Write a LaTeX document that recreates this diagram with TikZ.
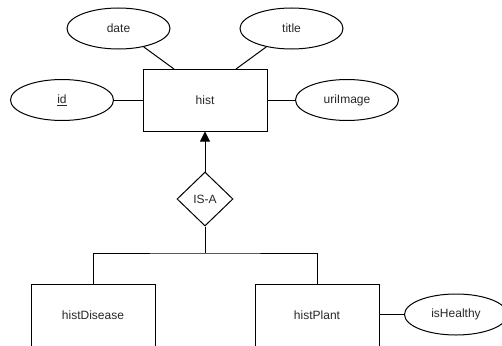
\documentclass[tikz,border=0pt]{standalone}
\usepackage{fontspec}
\setmainfont{Liberation Sans}
\usetikzlibrary{shapes.geometric,arrows.meta}

\tikzset{
    entity/.style = {draw, line width=1pt, minimum width=124pt, minimum height=62pt},
    attrib/.style = {ellipse, draw, line width=1pt, minimum width=103pt, minimum height=41pt, inner sep=0pt},
    isarel/.style = {diamond, draw, line width=1pt, minimum width=56pt, minimum height=54pt, inner sep=0pt},
    link/.style   = {line width=1pt}
}

\begin{document}
\begin{tikzpicture}[x=1pt, y=-1pt, font=\fontsize{12}{14}\selectfont, text=black!85]
    \useasboundingbox (0,0) rectangle (502,345);

    % supertype and its attributes
    \node[entity] (hist) at (205,100) {hist};
    \node[attrib] (date) at (118.5,28.5) {date};
    \node[attrib] (title) at (291.5,28.5) {title};
    \node[attrib] (id) at (62,100) {\underline{id}};
    \node[attrib] (uri) at (347,100) {uriImage};

    \draw[link] (date) -- (174,69);
    \draw[link] (title) -- (236,69);
    \draw[link] (id) -- (hist);
    \draw[link] (uri) -- (hist);

    % specialisation
    \node[isarel] (isa) at (205,199) {IS-A};
    \draw[link, -{Triangle[length=10pt, width=10pt]}] (isa.north) -- (hist.south);

    \node[entity, minimum height=63pt] (disease) at (93,315.5) {histDisease};
    \node[entity, minimum height=63pt] (plant) at (317,315.5) {histPlant};
    \node[attrib] (healthy) at (456,314.5) {isHealthy};

    \coordinate (bar) at (205,253);
    \draw[link] (isa.south) -- (bar);
    \draw[link] (disease.north) |- (bar) -| (plant.north);
    \draw[link] (plant.east |- healthy) -- (healthy);
\end{tikzpicture}
\end{document}
